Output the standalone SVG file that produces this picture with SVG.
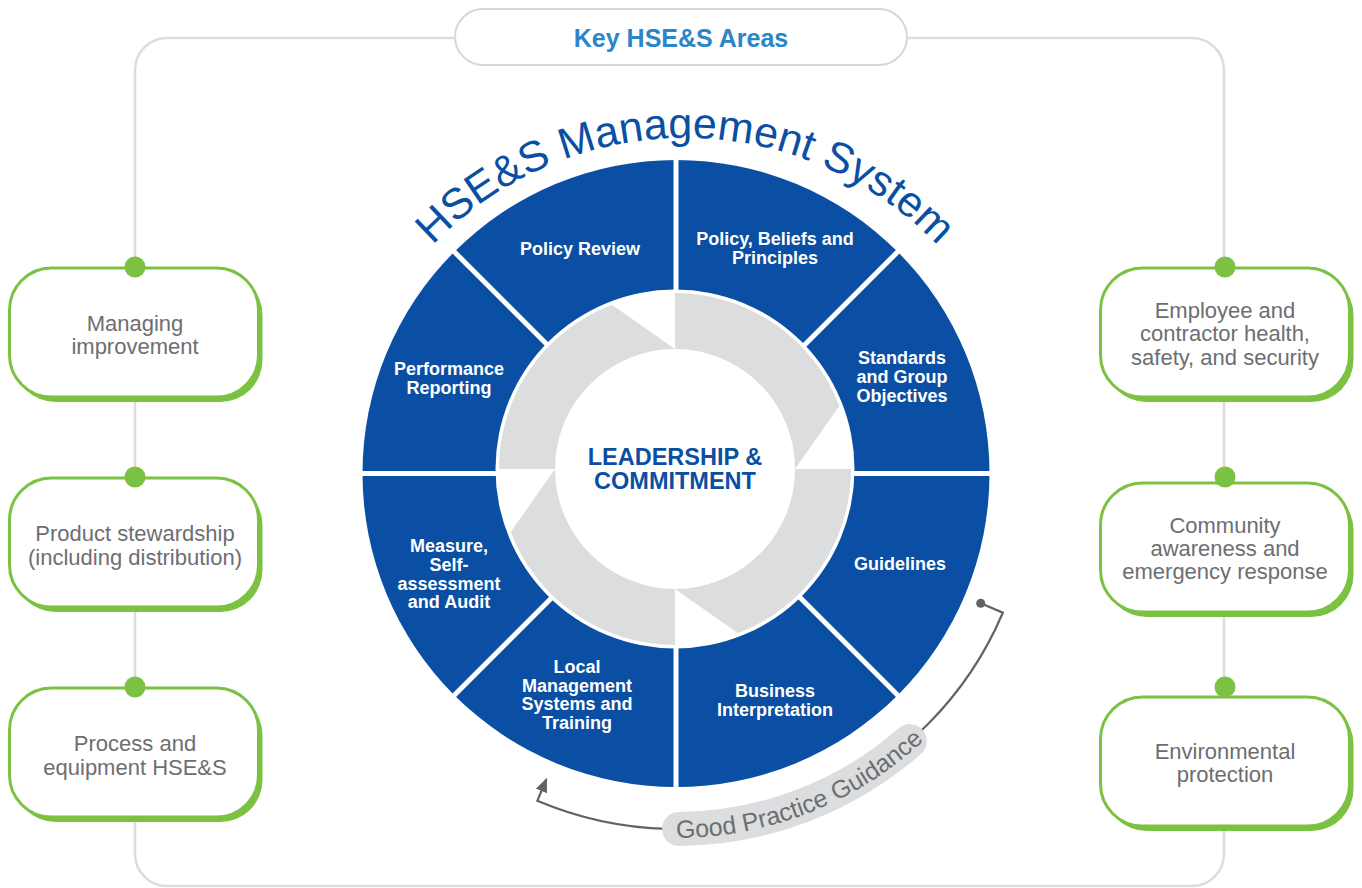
<svg xmlns="http://www.w3.org/2000/svg" width="1362" height="888" viewBox="0 0 1362 888">
<style>
.frame{fill:none;stroke:#dcdcdc;stroke-width:2.5}
.box{fill:#fff;stroke:#7cc242;stroke-width:3}
.shadow{fill:#7cc242}
.dot{fill:#7cc242}
.area{font-family:"Liberation Sans",Arial,sans-serif;font-size:22px;fill:#6d6e71;text-anchor:middle}
.seg{font-family:"Liberation Sans",Arial,sans-serif;font-size:18px;font-weight:bold;fill:#fff;text-anchor:middle}
.blue{fill:#0a4fa3}
.div{stroke:#fff;stroke-width:5}
.ring{fill:#dcdddf}
.conn{fill:none;stroke:#626365;stroke-width:2.2}
.ttl{font-family:"Liberation Sans",Arial,sans-serif;font-size:43px;fill:#0a4fa3}
</style>
<defs>
<marker id="ah" viewBox="0 0 14 12" refX="13" refY="6" markerWidth="14" markerHeight="12" markerUnits="userSpaceOnUse" orient="auto">
<path d="M0 0 L14 6 L0 12 Z" fill="#626365"/>
</marker>
<path id="titleArc" d="M 335 488 A 350 350 0 0 1 1035 488"/>
<path id="gpgArc" d="M 650.6 837.1 A 364 364 0 0 0 942.2 722.2"/>
</defs>
<rect width="1362" height="888" fill="#fff"/>

<g id="connectors">
<rect class="frame" x="135" y="38" width="1089" height="848" rx="32"/>
<path class="conn" d="M 980.7 603.3 L 1002.8 612.7 A 355 355 0 0 1 537.3 800.8 L 546.5 779" marker-end="url(#ah)"/>
<circle cx="980.7" cy="603.3" r="4.5" fill="#626365"/>
</g>

<g id="key-areas">
<rect x="455" y="9" width="452" height="56" rx="28" fill="#fff" stroke="#d8d8d8" stroke-width="2"/>
<text x="681" y="47" font-family="Liberation Sans,Arial,sans-serif" font-size="25" font-weight="bold" fill="#2a86c8" text-anchor="middle">Key HSE&amp;S Areas</text>
</g>

<g id="title">
<text class="ttl"><textPath href="#titleArc" startOffset="267.8">HSE&amp;S</textPath></text>
<text class="ttl"><textPath href="#titleArc" startOffset="425.5">Management</textPath></text>
<text class="ttl"><textPath href="#titleArc" startOffset="688.4">System</textPath></text>
</g>

<g id="wheel">
<circle class="blue" cx="676" cy="473.5" r="313.5"/>
<line class="div" x1="676" y1="150" x2="676" y2="797"/>
<line class="div" x1="352" y1="473.5" x2="1000" y2="473.5"/>
<line class="div" x1="447" y1="244.5" x2="905" y2="702.5"/>
<line class="div" x1="905" y1="244.5" x2="447" y2="702.5"/>
<circle cx="675" cy="469" r="179.5" fill="#fff"/>
<path class="ring" d="M 555 469 L 499 469 A 176 176 0 0 1 611.93 304.69 L 675 349 A 120 120 0 0 0 555 469 Z"/>
<path class="ring" d="M 675 349 L 675 293 A 176 176 0 0 1 839.31 405.93 L 795 469 A 120 120 0 0 0 675 349 Z"/>
<path class="ring" d="M 795 469 L 851 469 A 176 176 0 0 1 738.07 633.31 L 675 589 A 120 120 0 0 0 795 469 Z"/>
<path class="ring" d="M 675 589 L 675 645 A 176 176 0 0 1 510.69 532.07 L 555 469 A 120 120 0 0 0 675 589 Z"/>
</g>

<g id="leadership">
<text font-family="Liberation Sans,Arial,sans-serif" font-size="23.5" font-weight="bold" fill="#0a4fa3" text-anchor="middle"><tspan x="675" y="465">LEADERSHIP &amp;</tspan><tspan x="675" y="489">COMMITMENT</tspan></text>
</g>

<g id="seg-policy-review"><text class="seg" x="580" y="255">Policy Review</text></g>
<g id="seg-policy-beliefs"><text class="seg"><tspan x="775" y="245">Policy, Beliefs and</tspan><tspan x="775" y="264">Principles</tspan></text></g>
<g id="seg-standards"><text class="seg"><tspan x="902" y="364">Standards</tspan><tspan x="902" y="383">and Group</tspan><tspan x="902" y="402">Objectives</tspan></text></g>
<g id="seg-guidelines"><text class="seg" x="900" y="570">Guidelines</text></g>
<g id="seg-business"><text class="seg"><tspan x="775" y="697">Business</tspan><tspan x="775" y="716">Interpretation</tspan></text></g>
<g id="seg-local"><text class="seg"><tspan x="577" y="673">Local</tspan><tspan x="577" y="692">Management</tspan><tspan x="577" y="710">Systems and</tspan><tspan x="577" y="729">Training</tspan></text></g>
<g id="seg-measure"><text class="seg"><tspan x="449" y="552">Measure,</tspan><tspan x="449" y="571">Self-</tspan><tspan x="449" y="590">assessment</tspan><tspan x="449" y="608">and Audit</tspan></text></g>
<g id="seg-performance"><text class="seg"><tspan x="449" y="375">Performance</tspan><tspan x="449" y="394">Reporting</tspan></text></g>

<g id="good-practice">
<path d="M 679.1 829 A 355 355 0 0 0 909.8 741.1" fill="none" stroke="#dcdddf" stroke-width="34" stroke-linecap="round"/>
<text font-family="Liberation Sans,Arial,sans-serif" font-size="25" fill="#6d6e71"><textPath href="#gpgArc" startOffset="50%" text-anchor="middle">Good Practice Guidance</textPath></text>
</g>

<g id="area-managing">
<rect class="shadow" x="13.5" y="273" width="249" height="129" rx="42"/>
<rect class="box" x="9.5" y="268" width="249" height="129" rx="42"/>
<circle class="dot" cx="135" cy="267" r="10.5"/>
<text class="area"><tspan x="135" y="331">Managing</tspan><tspan x="135" y="354">improvement</tspan></text>
</g>
<g id="area-product">
<rect class="shadow" x="13.5" y="483" width="249" height="129" rx="42"/>
<rect class="box" x="9.5" y="478" width="249" height="129" rx="42"/>
<circle class="dot" cx="135" cy="477" r="10.5"/>
<text class="area"><tspan x="135" y="541">Product stewardship</tspan><tspan x="135" y="565">(including distribution)</tspan></text>
</g>
<g id="area-process">
<rect class="shadow" x="13.5" y="693" width="249" height="129" rx="42"/>
<rect class="box" x="9.5" y="688" width="249" height="129" rx="42"/>
<circle class="dot" cx="135" cy="687" r="10.5"/>
<text class="area"><tspan x="135" y="751">Process and</tspan><tspan x="135" y="775">equipment HSE&amp;S</tspan></text>
</g>
<g id="area-employee">
<rect class="shadow" x="1104.5" y="273" width="249" height="129" rx="42"/>
<rect class="box" x="1100.5" y="268" width="249" height="129" rx="42"/>
<circle class="dot" cx="1225" cy="267" r="10.5"/>
<text class="area"><tspan x="1225" y="317.5">Employee and</tspan><tspan x="1225" y="341">contractor health,</tspan><tspan x="1225" y="364.5">safety, and security</tspan></text>
</g>
<g id="area-community">
<rect class="shadow" x="1104.5" y="488" width="249" height="129" rx="42"/>
<rect class="box" x="1100.5" y="483" width="249" height="129" rx="42"/>
<circle class="dot" cx="1225" cy="477" r="10.5"/>
<text class="area"><tspan x="1225" y="533">Community</tspan><tspan x="1225" y="556">awareness and</tspan><tspan x="1225" y="579">emergency response</tspan></text>
</g>
<g id="area-environment">
<rect class="shadow" x="1104.5" y="702" width="249" height="129" rx="42"/>
<rect class="box" x="1100.5" y="697" width="249" height="129" rx="42"/>
<circle class="dot" cx="1225" cy="687" r="10.5"/>
<text class="area"><tspan x="1225" y="759">Environmental</tspan><tspan x="1225" y="782">protection</tspan></text>
</g>
</svg>
